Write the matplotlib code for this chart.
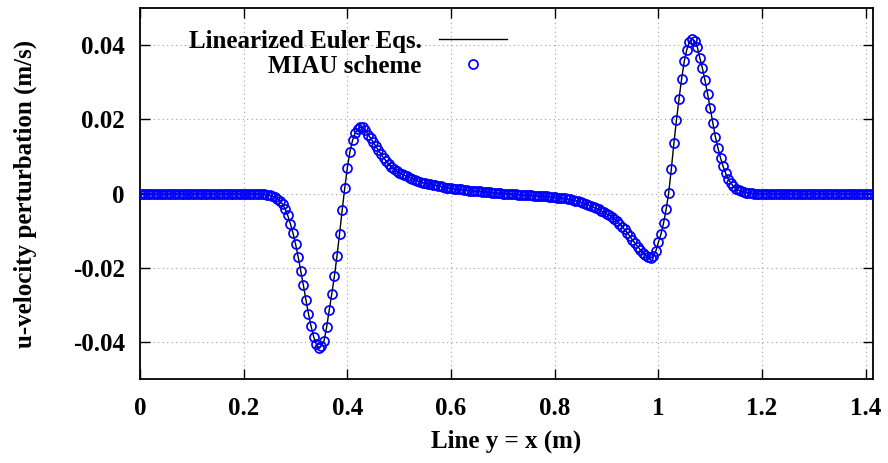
import numpy as np
import matplotlib
matplotlib.use("Agg")
import matplotlib.pyplot as plt

plt.rcParams['font.family'] = ['Liberation Serif', 'DejaVu Serif']
plt.rcParams['font.weight'] = 'bold'
plt.rcParams['axes.unicode_minus'] = False

# sample spacing along the diagonal line y = x (m)
dx = 0.005
# u-velocity perturbation, in 1e-3 m/s, from x = 0 to 1.41
u_left_flat = [0.0, 0.0, 0.0, 0.0, 0.0, 0.0, 0.0, 0.0, 0.0, 0.0,
               0.0, 0.0, 0.0, 0.0, 0.0, 0.0, 0.0, 0.0, 0.0, 0.0,
               0.0, 0.0, 0.0, 0.0, 0.0, 0.0, 0.0, 0.0, 0.0, 0.0,
               0.0, 0.0, 0.0, 0.0, 0.0, 0.0, 0.0, 0.0, 0.0, 0.0,
               0.0, 0.0, 0.0, 0.0, 0.0, 0.0, 0.0]
u_first_wave = [-0.1, -0.2, -0.3, -0.5, -0.7, -1.0, -1.4, -2.0, -2.9, -4.2,
                -5.9, -8.1, -10.6, -13.6, -17.0, -20.8, -24.6, -28.6, -32.4, -35.8,
                -38.6, -40.6, -41.6, -41.0, -39.8, -36.0, -31.5, -27.0, -22.3, -16.8,
                -10.8, -4.5, 1.5, 7.0, 11.3, 14.3, 16.3, 17.4, 17.9, 17.8,
                17.1, 15.9, 14.9, 13.8, 12.7, 11.6, 10.6, 9.6, 8.7, 7.9,
                7.2, 6.6, 6.0, 5.6]
u_middle = [5.2, 4.9, 4.6, 4.3, 4.0, 3.7, 3.4, 3.2, 2.9, 2.8,
            2.6, 2.5, 2.3, 2.2, 2.0, 1.9, 1.8, 1.6, 1.5, 1.4,
            1.3, 1.2, 1.1, 1.1, 1.0, 0.9, 0.8, 0.8, 0.7, 0.6,
            0.6, 0.5, 0.4, 0.4, 0.3, 0.2, 0.2, 0.1, 0.1, 0.0,
            0.0, -0.1, -0.1, -0.2, -0.2, -0.3, -0.3, -0.4, -0.4, -0.5,
            -0.5, -0.6, -0.6, -0.7, -0.7, -0.8, -0.8, -0.9, -0.9, -1.0,
            -1.1, -1.2, -1.2, -1.3, -1.5, -1.6, -1.8, -1.9, -2.1, -2.3,
            -2.6, -2.8, -3.1, -3.4, -3.7, -4.0, -4.3, -4.7, -5.1, -5.5]
u_second_wave = [-5.8, -6.2, -6.8, -7.4, -8.1, -8.9, -9.7, -10.6, -11.5, -12.5,
                 -13.4, -14.3, -15.1, -15.9, -16.6, -17.2, -17.4, -16.9, -15.6, -13.2,
                 -11.0, -8.0, -4.3, 0.2, 6.5, 13.5, 19.8, 25.6, 31.0, 35.6,
                 38.8, 40.9, 41.7, 41.1, 39.6, 36.6, 33.8, 30.5, 26.9, 23.0,
                 19.0, 15.3, 12.3, 9.6, 7.3, 5.4, 3.9, 2.8, 1.9, 1.3,
                 0.9, 0.6, 0.4, 0.2, 0.1, 0.1, 0.0, 0.0, 0.0, 0.0]
u_right_flat = [0.0, 0.0, 0.0, 0.0, 0.0, 0.0, 0.0, 0.0, 0.0, 0.0,
                0.0, 0.0, 0.0, 0.0, 0.0, 0.0, 0.0, 0.0, 0.0, 0.0,
                0.0, 0.0, 0.0, 0.0, 0.0, 0.0, 0.0, 0.0, 0.0, 0.0,
                0.0, 0.0, 0.0, 0.0, 0.0, 0.0, 0.0, 0.0, 0.0, 0.0,
                0.0, 0.0]

x_ticks = [0, 0.2, 0.4, 0.6, 0.8, 1.0, 1.2, 1.4]
x_ticklabels = ['0', '0.2', '0.4', '0.6', '0.8', '1', '1.2', '1.4']
y_ticks = [-0.04, -0.02, 0, 0.02, 0.04]
y_ticklabels = ['-0.04', '-0.02', '0', '0.02', '0.04']

u = np.array(u_left_flat + u_first_wave + u_middle + u_second_wave + u_right_flat) * 1e-3
x = np.arange(len(u)) * dx

fig = plt.figure(figsize=(8.88, 4.63), dpi=100)
ax = fig.add_axes([0.1577, 0.1814, 0.8253, 0.8013])

ax.plot(x, u, color='black', lw=1.0, label='Linearized Euler Eqs.', zorder=3)
ax.plot(x, u, ls='none', marker='o', ms=6.5, mfc='none', mec='#0000ff', mew=1.25,
        label='MIAU scheme', zorder=4)

ax.set_xlim(0, 1.414)
ax.set_ylim(-0.05, 0.05)
ax.set_xticks(x_ticks)
ax.set_xticklabels(x_ticklabels)
ax.set_yticks(y_ticks)
ax.set_yticklabels(y_ticklabels)
ax.tick_params(direction='in', length=7, width=1, top=True, right=True,
               labelsize=18)
ax.tick_params(axis='x', pad=13)
ax.tick_params(axis='y', pad=11)
ax.grid(True, color='#a0a0a0', ls=(0, (1, 3)), lw=0.8)
for s in ax.spines.values():
    s.set_linewidth(1.3)

ax.set_xlabel('Line y = x (m)', fontsize=18, fontweight='bold', labelpad=7)
ax.set_ylabel('u-velocity perturbation (m/s)', fontsize=18, fontweight='bold', labelpad=26)

leg = ax.legend(loc='upper left', bbox_to_anchor=(0.036, 1.002), markerfirst=False,
                frameon=False, handlelength=2.7, labelspacing=0.08, handletextpad=0.7,
                prop={'size': 18, 'weight': 'bold'})

fig.savefig('out.png', dpi=100)
